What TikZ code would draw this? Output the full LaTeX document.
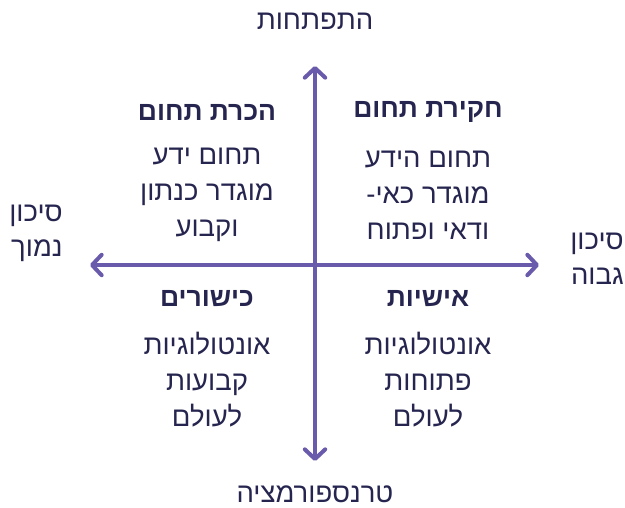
\documentclass[tikz,border=0pt]{standalone}
\usepackage{fontspec}
\usepackage{tikz}
\usetikzlibrary{arrows.meta}
\TeXXeTstate=1
\newfontfamily\hebfont[Script=Hebrew]{Liberation Sans}
\newcommand{\heb}[1]{{\hebfont\beginR #1\endR}}
\definecolor{QdAxis}{HTML}{6A5AAB}
\definecolor{QdInk}{HTML}{26254F}
\tikzset{
  axis/.style={{Straight Barb[length=3.4mm,width=7.2mm,line cap=round,line join=round]}-{Straight Barb[length=3.4mm,width=7.2mm,line cap=round,line join=round]},
               QdAxis,line width=4pt,line cap=round},
  qhead/.style={text=QdInk,font=\fontsize{26.5}{30}\selectfont\bfseries,align=center},
  qbody/.style={text=QdInk,font=\fontsize{27.5}{36}\selectfont,align=center},
  edge/.style={text=QdInk,font=\fontsize{27.5}{35}\selectfont,align=center,inner sep=0pt},
}
\begin{document}
\begin{tikzpicture}[x=1pt,y=-1pt]
  \useasboundingbox (0,0) rectangle (625,507);
  \fill[white] (0,0) rectangle (625,507);

  % axes
  \coordinate (top) at (315,66);
  \coordinate (bottom) at (315,461);
  \coordinate (left) at (90,265);
  \coordinate (right) at (539,265);
  \draw[axis] (bottom) -- (top);
  \draw[axis] (left) -- (right);

  % axis labels
  \node[edge] (dev) at (315,21) {\heb{התפתחות}};
  \node[edge] (trans) at (315,494) {\heb{טרנספורמציה}};
  \node[edge,align=right] (low) at (36,233) {\heb{סיכון}\\\heb{נמוך}};
  \node[edge,align=right] (high) at (597,259) {\heb{סיכון}\\\heb{גבוה}};

  % quadrants
  \node[qhead] (tlhead) at (207,112) {\heb{הכרת תחום}};
  \node[qbody] (tlbody) at (207,195) {\heb{תחום ידע}\\\heb{מוגדר כנתון}\\\heb{וקבוע}};

  \node[qhead] (trhead) at (428,112) {\heb{חקירת תחום}};
  \node[qbody] (trbody) at (428,195) {\heb{תחום הידע}\\\heb{מוגדר כאי-}\\\heb{ודאי ופתוח}};

  \node[qhead] (blhead) at (207,299) {\heb{כישורים}};
  \node[qbody] (blbody) at (207,380) {\heb{אונטולוגיות}\\\heb{קבועות}\\\heb{לעולם}};

  \node[qhead] (brhead) at (428,299) {\heb{אישיות}};
  \node[qbody] (brbody) at (428,380) {\heb{אונטולוגיות}\\\heb{פתוחות}\\\heb{לעולם}};
\end{tikzpicture}
\end{document}
